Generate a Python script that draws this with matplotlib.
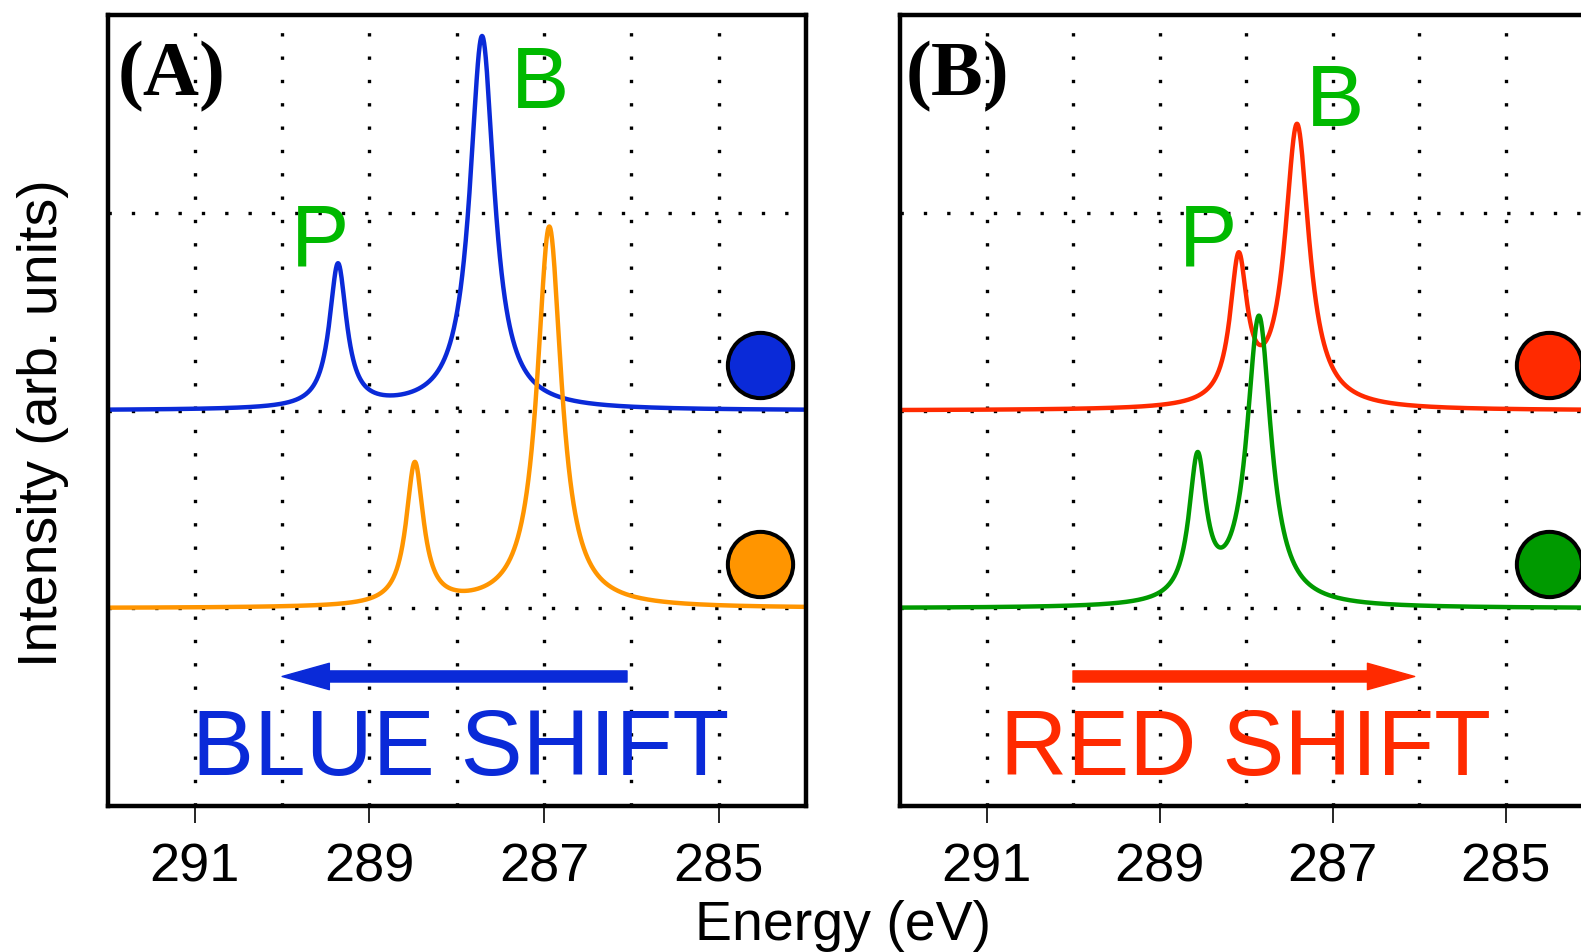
import numpy as np
import matplotlib
matplotlib.use('Agg')
import matplotlib.pyplot as plt

plt.rcParams['font.family'] = ['Liberation Sans', 'DejaVu Sans']

# peak parameters (energy in eV, height above baseline)
# panel A: blue (upper) and orange (lower) spectra
blue_centers = [289.36, 287.71]
blue_heights = [0.725, 1.89]
orange_centers = [288.48, 286.94]
orange_heights = [0.717, 1.926]
# panel B: red (upper) and green (lower) spectra
red_centers = [288.085, 287.41]
red_heights = [0.715, 1.428]
green_centers = [288.56, 287.85]
green_heights = [0.711, 1.46]
# half widths at half maximum for the P and B peaks
peak_hwhm = [0.12, 0.17]
upper_base = 2.0
lower_base = 1.0

xticks_major = [291, 289, 287, 285]
xticks_minor = [290, 288, 286]
ygrid = [1, 2, 3]

BLUE = '#0a2ad8'
ORANGE = '#ff9500'
RED = '#ff2a00'
GREEN = '#009a00'
LETTER_GREEN = '#00b900'

energy = np.linspace(284, 292, 3000)


def spectrum(centers, heights, base):
    y = np.full_like(energy, base)
    for c, h, g in zip(centers, heights, peak_hwhm):
        y += h * g**2 / ((energy - c)**2 + g**2)
    return y


W, H = 1581, 952
fig = plt.figure(figsize=(W / 100, H / 100), dpi=100)
ax_a = fig.add_axes([107.5 / W, 146 / H, 698.5 / W, 791 / H])
ax_b = fig.add_axes([900 / W, 146 / H, 692 / W, 791 / H])

for ax in (ax_a, ax_b):
    ax.set_xlim(292, 284)
    ax.set_ylim(0, 4)
    ax.set_xticks(xticks_major)
    ax.set_xticks(xticks_minor, minor=True)
    ax.set_yticks(ygrid)
    ax.set_yticklabels([])
    ax.tick_params(axis='x', which='major', direction='out', length=12, width=1.2,
                   labelsize=39, pad=14)
    ax.tick_params(axis='x', which='minor', length=0)
    ax.tick_params(axis='y', length=0)
    ax.grid(True, which='both', color='black', linestyle=(0, (1, 6)), linewidth=2.4)
    for s in ax.spines.values():
        s.set_linewidth(3.2)
    ax.set_axisbelow(True)

# panel A
ax_a.plot(energy, spectrum(blue_centers, blue_heights, upper_base), color=BLUE, lw=3.2)
ax_a.plot(energy, spectrum(orange_centers, orange_heights, lower_base), color=ORANGE, lw=3.2)
ax_a.plot([284.53], [2.228], 'o', ms=47, mfc=BLUE, mec='black', mew=2.9)
ax_a.plot([284.53], [1.226], 'o', ms=47, mfc=ORANGE, mec='black', mew=2.9)
ax_a.text(289.57, 2.735, 'P', color=LETTER_GREEN, fontsize=63, ha='center', va='baseline')
ax_a.text(287.05, 3.53, 'B', color=LETTER_GREEN, fontsize=63, ha='center', va='baseline')
ax_a.annotate('', xy=(290.0, 0.655), xytext=(286.05, 0.655),
              arrowprops=dict(arrowstyle='simple,head_length=1.7,head_width=0.95,tail_width=0.4',
                              mutation_scale=20, color=BLUE, shrinkA=0, shrinkB=0))
ax_a.text(287.96, 0.157, 'BLUE SHIFT', color=BLUE, fontsize=67, ha='center', va='baseline')
ax_a.text(0.014, 0.922, '(A)', transform=ax_a.transAxes, fontsize=56, fontweight='bold',
          family='Liberation Serif', ha='left', va='center')

# panel B
ax_b.plot(energy, spectrum(red_centers, red_heights, upper_base), color=RED, lw=3.2)
ax_b.plot(energy, spectrum(green_centers, green_heights, lower_base), color=GREEN, lw=3.2)
ax_b.plot([284.5], [2.228], 'o', ms=47, mfc=RED, mec='black', mew=2.9)
ax_b.plot([284.5], [1.226], 'o', ms=47, mfc=GREEN, mec='black', mew=2.9)
ax_b.text(288.44, 2.735, 'P', color=LETTER_GREEN, fontsize=63, ha='center', va='baseline')
ax_b.text(286.97, 3.44, 'B', color=LETTER_GREEN, fontsize=63, ha='center', va='baseline')
ax_b.annotate('', xy=(286.05, 0.655), xytext=(290.0, 0.655),
              arrowprops=dict(arrowstyle='simple,head_length=1.7,head_width=0.95,tail_width=0.4',
                              mutation_scale=20, color=RED, shrinkA=0, shrinkB=0))
ax_b.text(288.0, 0.157, 'RED SHIFT', color=RED, fontsize=67, ha='center', va='baseline')
ax_b.text(0.008, 0.922, '(B)', transform=ax_b.transAxes, fontsize=56, fontweight='bold',
          family='Liberation Serif', ha='left', va='center')

fig.text(0.0272, 0.556, 'Intensity (arb. units)', rotation=90, fontsize=40,
         ha='center', va='center')
fig.text(0.533, 12 / H, 'Energy (eV)', fontsize=40, ha='center', va='baseline')

fig.savefig('out.png', dpi=100, facecolor='white')
